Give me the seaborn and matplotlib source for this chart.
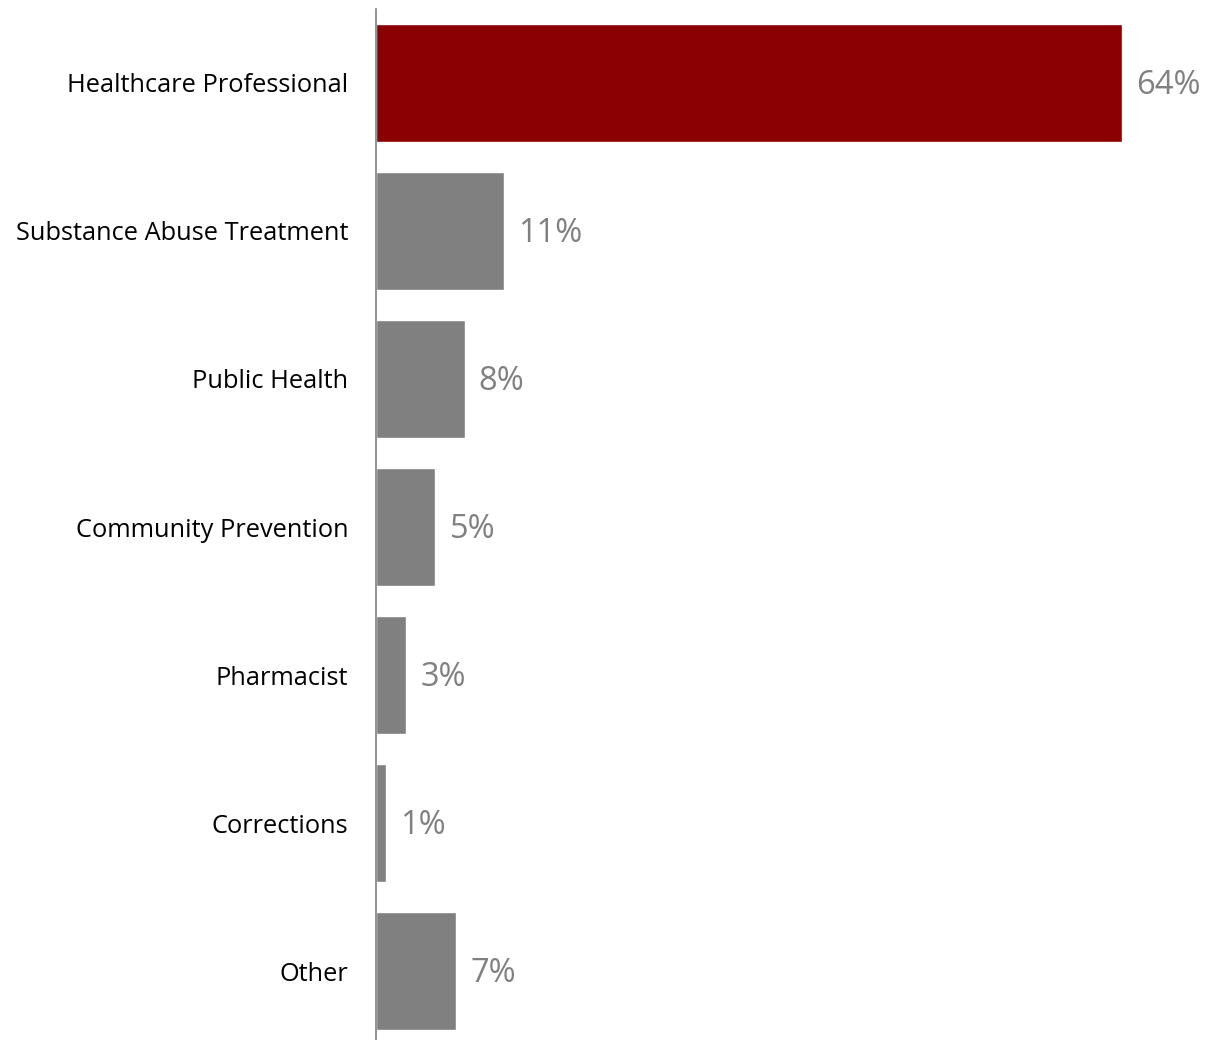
import matplotlib
matplotlib.use("Agg")
import matplotlib.pyplot as plt
import seaborn as sns
import pandas as pd

categories = ["Healthcare Professional", "Substance Abuse Treatment", "Public Health",
              "Community Prevention", "Pharmacist", "Corrections", "Other"]
values = [64.0, 11.0, 7.6, 5.1, 2.6, 0.9, 6.9]
value_labels = ["64%", "11%", "8%", "5%", "3%", "1%", "7%"]
colors = ["#8B0000", "#808080", "#808080", "#808080", "#808080", "#808080", "#808080"]

df = pd.DataFrame({"category": categories, "value": values})

sns.set_theme(style="white")
plt.rcParams['font.family'] = ['Open Sans', 'DejaVu Sans']

fig = plt.figure(figsize=(12.09, 10.40), dpi=100)
ax = fig.add_axes([376/1209, 0.0, 1 - 376/1209, 1 - 9/1040])

sns.barplot(data=df, x="value", y="category", hue="category", palette=colors,
            legend=False, width=0.8, ax=ax, saturation=1)

ax.set_xlim(0, 833/11.66)
ax.set_ylim(-0.5 + 1031/148, -0.5)

for i, (v, lab) in enumerate(zip(values, value_labels)):
    ax.text(v + 1.2, i + 0.02, lab, va="center", ha="left", fontsize=23.5, color="#808080")

ax.set_xlabel("")
ax.set_ylabel("")
ax.set_xticks([])
ax.tick_params(axis="y", length=0, pad=20, labelsize=18.3, labelcolor="black")
for s in ["top", "right", "bottom"]:
    ax.spines[s].set_visible(False)
ax.spines["left"].set_color("#808080")
ax.spines["left"].set_linewidth(1.2)

fig.savefig("out.png", dpi=100)
